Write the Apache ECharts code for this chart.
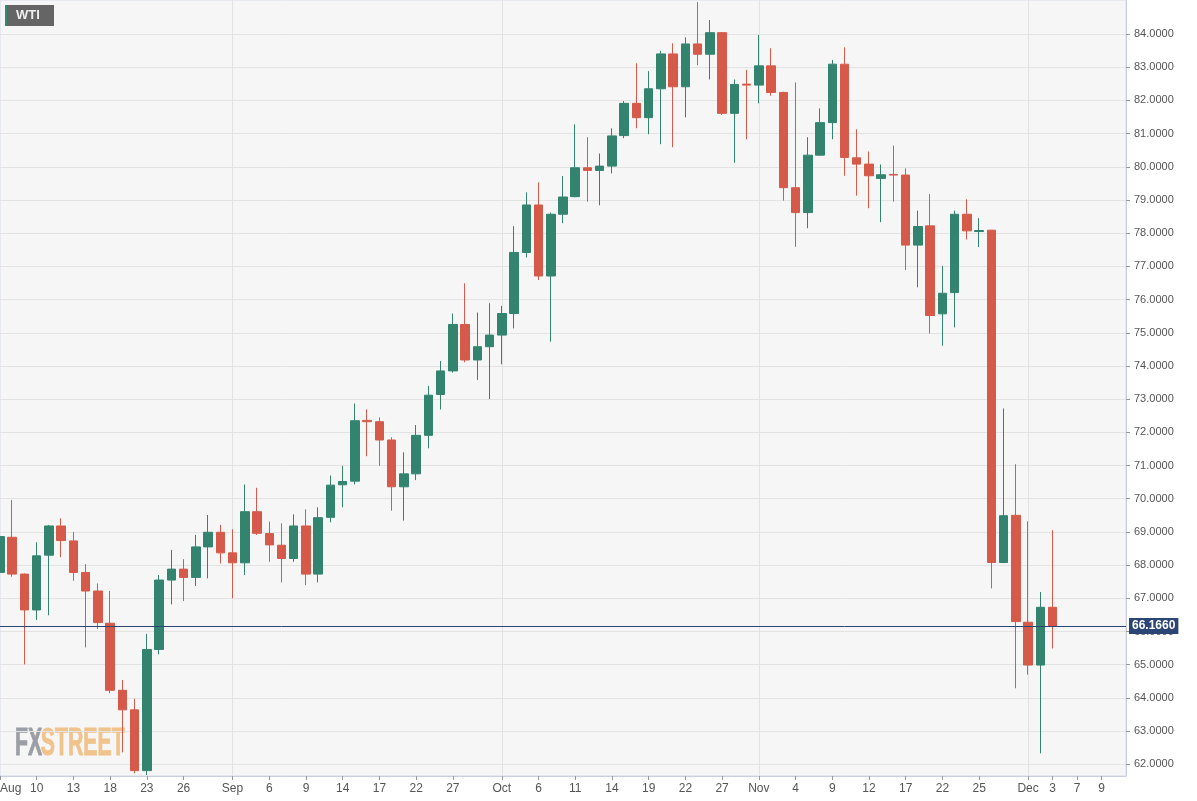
<!DOCTYPE html>
<html>
<head>
<meta charset="utf-8">
<script src="https://cdn.jsdelivr.net/npm/echarts@6/dist/echarts.min.js"></script>
<style>
html,body{margin:0;padding:0;background:#ffffff;}
#chart{width:1197px;height:801px;}
</style>
</head>
<body>
<div id="chart"></div>
<script>
// Trading days (2021), the last few are empty future slots
const categories = [
 'Aug 5','Aug 6','Aug 9','Aug 10','Aug 11','Aug 12','Aug 13','Aug 16','Aug 17','Aug 18','Aug 19','Aug 20',
 'Aug 23','Aug 24','Aug 25','Aug 26','Aug 27','Aug 30','Aug 31',
 'Sep 1','Sep 2','Sep 3','Sep 6','Sep 7','Sep 8','Sep 9','Sep 10','Sep 13','Sep 14','Sep 15','Sep 16','Sep 17',
 'Sep 20','Sep 21','Sep 22','Sep 23','Sep 24','Sep 27','Sep 28','Sep 29','Sep 30',
 'Oct 1','Oct 4','Oct 5','Oct 6','Oct 7','Oct 8','Oct 11','Oct 12','Oct 13','Oct 14','Oct 15',
 'Oct 18','Oct 19','Oct 20','Oct 21','Oct 22','Oct 25','Oct 26','Oct 27','Oct 28','Oct 29',
 'Nov 1','Nov 2','Nov 3','Nov 4','Nov 5','Nov 8','Nov 9','Nov 10','Nov 11','Nov 12',
 'Nov 15','Nov 16','Nov 17','Nov 18','Nov 19','Nov 22','Nov 23','Nov 24','Nov 25','Nov 26','Nov 29','Nov 30',
 'Dec 1','Dec 2','Dec 3','Dec 6','Dec 7','Dec 8','Dec 9','Dec 10','Dec 13'
];
const opens = [
 67.78,68.84,67.73,66.65,68.30,69.18,68.73,67.78,67.22,66.25,64.23,63.64,
 61.81,65.46,67.55,67.88,67.63,68.55,68.99,
 68.37,68.07,69.61,68.95,68.60,68.20,69.18,67.73,69.44,70.42,70.53,72.36,72.32,
 71.77,70.36,70.75,71.91,73.14,73.85,75.25,74.18,74.58,
 74.93,75.58,77.42,78.85,76.71,78.57,79.10,79.97,79.89,80.02,80.94,
 81.91,81.48,82.35,83.40,82.41,83.70,83.39,84.04,81.61,82.49,
 82.46,83.04,82.24,79.37,78.62,80.35,81.33,83.09,80.27,80.08,
 79.65,79.77,79.75,77.64,78.22,75.57,76.21,78.57,78.05,78.09,68.08,69.50,
 66.28,64.99,66.73
];
const closes = [
 68.86,67.73,66.65,68.28,69.18,68.74,67.78,67.22,66.27,64.23,63.64,61.81,
 65.46,67.55,67.88,67.63,68.55,68.99,68.37,
 68.07,69.61,68.96,68.61,68.20,69.18,67.73,69.43,70.41,70.52,72.35,72.32,71.77,
 70.36,70.75,71.91,73.12,73.85,75.25,74.18,74.58,74.93,
 75.58,77.42,78.85,76.71,78.57,79.09,79.97,79.89,80.02,80.93,81.91,
 81.48,82.35,83.40,82.41,83.70,83.39,84.04,81.61,82.48,82.46,
 83.04,82.24,79.37,78.62,80.35,81.33,83.09,80.28,80.08,79.73,
 79.76,79.75,77.64,78.20,75.52,76.19,78.57,78.07,78.08,68.08,69.49,66.30,
 64.99,66.73,66.166
];
const lows = [
 67.35,67.65,65.01,66.35,66.49,68.24,67.53,65.52,66.08,64.14,62.36,61.73,
 61.68,65.31,66.82,66.92,67.37,67.60,68.05,
 67.00,67.70,68.91,68.10,67.48,68.10,67.40,67.48,69.29,69.74,70.43,71.28,70.99,
 69.64,69.34,70.56,71.52,72.69,73.80,74.11,73.58,73.00,
 74.05,75.13,77.27,76.59,74.73,78.30,79.08,78.95,78.84,79.80,80.86,
 81.16,80.98,80.68,80.59,81.49,83.06,82.63,81.56,80.12,80.83,
 81.91,82.14,78.98,77.59,78.15,80.33,80.83,79.73,79.13,78.75,
 78.33,78.95,76.89,76.37,74.98,74.61,75.16,77.81,77.58,67.30,68.06,64.29,
 64.70,62.33,65.49
];
const highs = [
 69.05,69.96,67.75,68.69,69.21,69.41,69.00,68.03,67.45,67.22,64.54,63.97,
 65.93,67.70,68.46,68.18,68.91,69.51,69.21,
 69.08,70.43,70.33,69.31,69.26,69.53,69.68,69.74,70.70,70.99,72.87,72.69,72.45,
 71.85,71.40,72.22,73.40,74.15,75.58,76.49,75.61,75.89,
 75.81,78.21,79.23,79.53,78.62,79.72,81.28,80.89,80.40,81.16,81.98,
 83.12,82.88,83.49,83.72,83.90,84.96,84.42,84.06,82.63,82.92,
 83.97,83.57,82.26,82.54,80.89,81.76,83.22,83.60,81.13,80.46,
 80.07,80.64,79.95,78.68,79.18,77.01,78.68,79.02,78.45,78.10,72.72,71.04,
 69.32,67.19,69.05
];
const lastPrice = 66.166;
const labelDates = ['Aug 5','Aug 10','Aug 13','Aug 18','Aug 23','Aug 26','Sep 1','Sep 6','Sep 9','Sep 14','Sep 17','Sep 22','Sep 27',
 'Oct 1','Oct 6','Oct 11','Oct 14','Oct 19','Oct 22','Oct 27','Nov 1','Nov 4','Nov 9','Nov 12','Nov 17','Nov 22','Nov 25',
 'Dec 1','Dec 3','Dec 7','Dec 9'];
const labelTexts = ['Aug','10','13','18','23','26','Sep','6','9','14','17','22','27',
 'Oct','6','11','14','19','22','27','Nov','4','9','12','17','22','25',
 'Dec','3','7','9'];
const monthStarts = ['Sep 1','Oct 1','Nov 1','Dec 1'];
const yTicks = [62,63,64,65,66,67,68,69,70,71,72,73,74,75,76,77,78,79,80,81,82,83,84];

const ohlc = opens.map((o, i) => [o, closes[i], lows[i], highs[i]]);
const labelAt = (idx) => labelDates.indexOf(categories[idx]);
const UP = '#32846f', DOWN = '#d65a49';

const chart = echarts.init(document.getElementById('chart'), null, {renderer: 'canvas'});
chart.setOption({
  animation: false,
  backgroundColor: '#ffffff',
  textStyle: {fontFamily: 'Arial, "Liberation Sans", sans-serif'},
  grid: {left: 0, right: 71, top: 0, bottom: 25, outerBoundsMode: 'none', containLabel: false,
         show: true, backgroundColor: '#f6f6f6', borderColor: '#d6dbea', borderWidth: 1},
  xAxis: {
    type: 'category', data: categories, boundaryGap: false,
    axisLine: {lineStyle: {color: '#c9cfe2'}},
    axisTick: {show: true, length: 4, interval: (i) => labelAt(i) >= 0, lineStyle: {color: '#999'}},
    axisLabel: {
      interval: (i) => labelAt(i) >= 0,
      formatter: (v, i) => { const k = labelDates.indexOf(v); return k >= 0 ? labelTexts[k] : ''; },
      color: '#555', fontSize: 12, margin: 7, alignMinLabel: 'left', hideOverlap: false
    },
    splitLine: {show: true, interval: (i) => monthStarts.indexOf(categories[i]) >= 0, lineStyle: {color: '#e2e2e2'}}
  },
  yAxis: {
    type: 'value', position: 'right', scale: true, min: 61.648, max: 85.024,
    axisLine: {show: true, lineStyle: {color: '#c9cfe2'}},
    axisTick: {show: true, length: 4, customValues: yTicks, lineStyle: {color: '#999'}},
    axisLabel: {customValues: yTicks, formatter: (v) => v.toFixed(4), color: '#555', fontSize: 11, margin: 8},
    splitLine: {show: true, lineStyle: {color: '#e3e3e3'}}
  },
  series: [{
    type: 'candlestick', data: ohlc, barWidth: 9, clip: true, z: 5,
    itemStyle: {color: UP, color0: DOWN, borderColor: UP, borderColor0: DOWN, borderWidth: 1},
    markLine: {
      symbol: ['none', 'none'], silent: true, animation: false, z: 10,
      data: [{yAxis: lastPrice}],
      lineStyle: {color: '#2b4675', width: 1, type: 'solid'},
      label: {position: 'end', formatter: () => lastPrice.toFixed(4), color: '#fff', backgroundColor: '#2b4675',
              padding: [2, 3, 2, 3], fontWeight: 'bold', fontSize: 12, distance: 3}
    }
  }],
  graphic: [
    {type: 'rect', left: 5, top: 5, shape: {width: 49, height: 21}, style: {fill: '#656565'}, z: 20},
    {type: 'rect', left: 5, top: 5, shape: {width: 2, height: 21}, style: {fill: '#2f8a72'}, z: 21},
    {type: 'text', left: 16, top: 9, style: {text: 'WTI', fill: '#eeeeee', font: 'bold 13px Arial, "Liberation Sans", sans-serif'}, z: 21},
    {type: 'group', x: 15, y: 726, scaleX: 0.56, z: 1, children: [
      {type: 'text', x: 0, y: 0, style: {text: 'FX', fill: '#9c9ea5', stroke: '#9c9ea5', lineWidth: 1, font: 'bold 38px "Liberation Sans", Arial, sans-serif', textVerticalAlign: 'top'}},
      {type: 'text', x: 46, y: 0, style: {text: 'STREET', fill: '#f1c38c', stroke: '#f1c38c', lineWidth: 1, font: 'bold 38px "Liberation Sans", Arial, sans-serif', textVerticalAlign: 'top'}}
    ]}
  ]
});
</script>
</body>
</html>
